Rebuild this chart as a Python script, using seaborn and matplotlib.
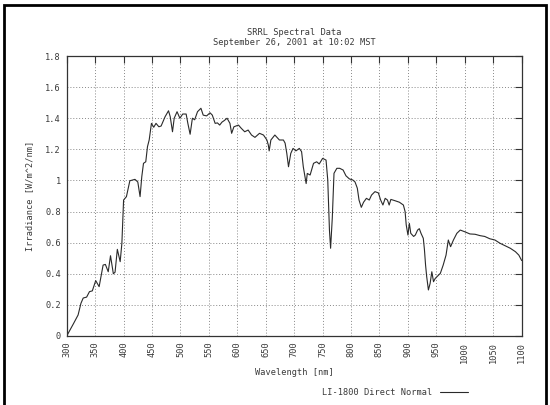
import matplotlib
matplotlib.use("Agg")
import matplotlib.pyplot as plt
from matplotlib.patches import Rectangle
import numpy as np
import pandas as pd
import seaborn as sns

# Spectral irradiance measured by the LI-1800 (direct normal)
wavelength = [
    300, 312, 320, 325, 329, 335, 340, 345, 351, 357, 364, 368, 373, 377, 382,
    385, 389, 394, 397, 400, 405, 411, 420, 425, 429, 432, 435, 439, 442, 445,
    449, 453, 457, 462, 466, 473, 479, 482, 486, 489, 494, 499, 504, 510, 513,
    517, 521, 525, 530, 536, 540, 546, 552, 556, 561, 565, 569, 573, 577, 582,
    587, 590, 594, 602, 607, 613, 619, 625, 631, 639, 646, 652, 654.5, 656, 659,
    666, 674, 681, 684, 687, 690, 694, 698, 703, 709, 713, 716, 721, 723, 728,
    734, 739.5, 744, 750, 756, 759, 762, 764, 767, 770, 775, 780, 786, 791, 797,
    803, 807, 811, 814, 818, 822, 827, 832, 836, 842, 848, 852, 856, 860, 864,
    867, 870, 877, 885, 892, 895, 897, 900, 902.5, 905, 910, 913, 917, 920, 923,
    927, 929, 931, 933, 936, 939, 942, 945, 948, 952, 957, 962, 967, 971, 975,
    980, 986, 992, 1000, 1009, 1018, 1027, 1035, 1044, 1053, 1062, 1071, 1080,
    1089, 1095, 1100,
]
irradiance = [
    0.0, 0.08, 0.135, 0.21, 0.244, 0.25, 0.285, 0.29, 0.356, 0.317, 0.456, 0.46,
    0.413, 0.516, 0.40, 0.41, 0.557, 0.478, 0.596, 0.874, 0.896, 0.998, 1.007,
    0.99, 0.896, 1.024, 1.11, 1.12, 1.217, 1.26, 1.367, 1.342, 1.367, 1.345, 1.35,
    1.41, 1.448, 1.41, 1.313, 1.40, 1.442, 1.40, 1.427, 1.427, 1.367, 1.297, 1.40,
    1.39, 1.442, 1.464, 1.42, 1.415, 1.435, 1.42, 1.367, 1.37, 1.356, 1.375,
    1.385, 1.40, 1.367, 1.303, 1.345, 1.356, 1.335, 1.313, 1.324, 1.292, 1.277,
    1.303, 1.292, 1.26, 1.228, 1.19, 1.26, 1.292, 1.26, 1.26, 1.24, 1.174, 1.088,
    1.174, 1.206, 1.19, 1.206, 1.185, 1.088, 0.98, 1.045, 1.035, 1.11, 1.12,
    1.106, 1.142, 1.131, 1.003, 0.68, 0.564, 0.76, 1.046, 1.078, 1.078, 1.067,
    1.03, 1.01, 1.003, 0.99, 0.95, 0.874, 0.827, 0.86, 0.885, 0.874, 0.906,
    0.928, 0.92, 0.874, 0.842, 0.885, 0.874, 0.842, 0.878, 0.87, 0.86, 0.842,
    0.80, 0.714, 0.649, 0.724, 0.66, 0.64, 0.649, 0.681, 0.69, 0.66, 0.628,
    0.556, 0.456, 0.381, 0.296, 0.338, 0.413, 0.349, 0.37, 0.385, 0.403, 0.456,
    0.52, 0.617, 0.574, 0.617, 0.66, 0.681, 0.67, 0.656, 0.654, 0.645, 0.64,
    0.625, 0.617, 0.596, 0.58, 0.564, 0.542, 0.52, 0.485,
]

x_ticks = list(range(300, 1101, 50))
y_ticks = [0, 0.2, 0.4, 0.6, 0.8, 1.0, 1.2, 1.4, 1.6, 1.8]
y_tick_labels = ["0", "0.2", "0.4", "0.6", "0.8", "1", "1.2", "1.4", "1.6", "1.8"]
series_name = "LI-1800 Direct Normal"

df = pd.DataFrame({"Wavelength": wavelength, "Irradiance": irradiance,
                   "Series": series_name})

sns.set_style("white")
plt.rcParams["font.family"] = ["DejaVu Sans Mono"]
fs = 6.2
txt = "#3a3a3a"

fig = plt.figure(figsize=(5.5, 4.05), dpi=100)
ax = fig.add_axes([0.1213, 0.1704, 0.8272, 0.6913])

sns.lineplot(data=df, x="Wavelength", y="Irradiance", hue="Series",
             palette=["#2a2a2a"], linewidth=0.8, ax=ax, legend=True)

ax.set_xlim(300, 1100)
ax.set_ylim(0, 1.8)
ax.set_xticks(x_ticks)
ax.set_xticklabels([str(t) for t in x_ticks], rotation=90, fontsize=fs,
                   color=txt)
ax.set_yticks(y_ticks)
ax.set_yticklabels(y_tick_labels, fontsize=fs, color=txt)
ax.tick_params(direction="in", length=5, width=0.8, color="#333333",
               top=True, right=True, pad=4)

ax.grid(True, linestyle=(0, (1, 2)), color="#888888", linewidth=0.7)
for sp in ax.spines.values():
    sp.set_visible(True)
    sp.set_color("#333333")
    sp.set_linewidth(0.9)

ax.set_xlabel("Wavelength [nm]", fontsize=fs, color=txt, labelpad=4)
ax.set_ylabel("Irradiance [W/m^2/nm]", fontsize=fs, color=txt, labelpad=8)
ax.set_title("SRRL Spectral Data\nSeptember 26, 2001 at 10:02 MST",
             fontsize=fs, color=txt, pad=8, linespacing=1.1)

handles, labels = ax.get_legend_handles_labels()
ax.legend(handles, labels, loc="center right", bbox_to_anchor=(0.851, 0.032),
          bbox_transform=fig.transFigure, frameon=False, markerfirst=False,
          fontsize=fs, handlelength=3.3, borderpad=0, borderaxespad=0,
          handletextpad=0.8, labelcolor=txt)

# window frame: left, top and right edges; the bottom runs past the figure
fig.patches.append(Rectangle((4 / 550, -10 / 405), 542 / 550, 410 / 405,
                             transform=fig.transFigure, fill=False,
                             edgecolor="black", linewidth=2))

fig.savefig("out.png", dpi=100)
